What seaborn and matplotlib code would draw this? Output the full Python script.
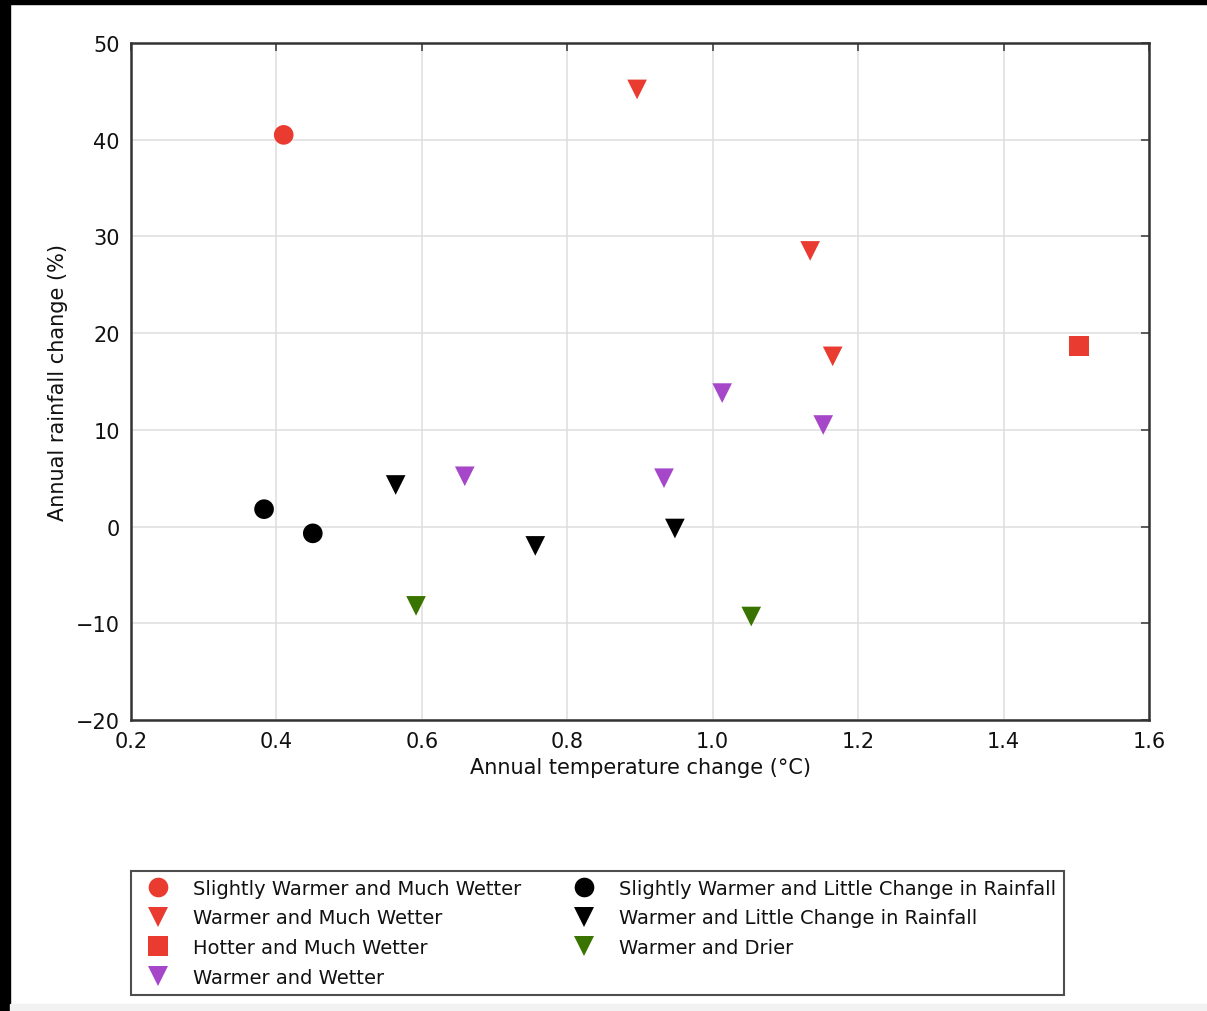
import seaborn as sns
import numpy as np
import pandas as pd
import matplotlib.pyplot as plt
from matplotlib.patches import Rectangle


# data
categories = ["Slightly Warmer and Much Wetter",
              "Warmer and Much Wetter",
              "Hotter and Much Wetter",
              "Warmer and Wetter",
              "Slightly Warmer and Little Change in Rainfall",
              "Warmer and Little Change in Rainfall",
              "Warmer and Drier"]

temp_change = [0.41,
               0.896, 1.134, 1.165,
               1.504,
               1.013, 1.152, 0.659, 0.933,
               0.383, 0.450,
               0.564, 0.756, 0.948,
               0.592, 1.053]
rain_change = [40.5,
               45.2, 28.5, 17.6,
               18.7,
               13.8, 10.5, 5.2, 5.0,
               1.8, -0.7,
               4.3, -2.0, -0.2,
               -8.2, -9.3]
group = ([categories[0]] + [categories[1]] * 3 + [categories[2]]
         + [categories[3]] * 4 + [categories[4]] * 2
         + [categories[5]] * 3 + [categories[6]] * 2)

colors = ["#E93B30", "#E93B30", "#E93B30", "#A646C9", "black", "black", "#3A7400"]
markers = ["o", "v", "s", "v", "o", "v", "v"]

df = pd.DataFrame({"temp": temp_change, "rain": rain_change, "group": group})

sns.set_style("white")
plt.rcParams["font.family"] = ["DejaVu Sans"]
plt.rcParams["text.color"] = "#111111"
plt.rcParams["axes.labelcolor"] = "#111111"
plt.rcParams["xtick.labelcolor"] = "#111111"
plt.rcParams["ytick.labelcolor"] = "#111111"

fig = plt.figure(figsize=(12.07, 10.12), dpi=100)
ax = fig.add_axes([131 / 1207, 1 - 721 / 1012, 1018 / 1207, 677 / 1012])

sns.scatterplot(data=df, x="temp", y="rain", hue="group", style="group",
                hue_order=categories, style_order=categories,
                palette=dict(zip(categories, colors)),
                markers=dict(zip(categories, markers)),
                s=200, edgecolor="none", ax=ax, zorder=3)

ax.set_xlim(0.2, 1.6)
ax.set_ylim(-20, 50)
ax.set_xticks(np.arange(0.2, 1.61, 0.2))
ax.set_yticks(np.arange(-20, 51, 10))
ax.grid(True, color="#dedede", linewidth=1.1, zorder=0)
ax.set_axisbelow(True)
ax.tick_params(direction="in", length=6, width=1.2, color="#444444",
               top=True, right=True, labelsize=15, pad=8)
for sp in ax.spines.values():
    sp.set_color("#333333")
    sp.set_linewidth(1.8)
ax.set_xlabel("Annual temperature change (\u00b0C)", fontsize=15, labelpad=4)
ax.set_ylabel("Annual rainfall change (%)", fontsize=15, labelpad=6)

handles, labels = ax.get_legend_handles_labels()
ax.get_legend().remove()
leg = fig.legend(handles, labels, ncol=2, loc="upper left",
                 bbox_to_anchor=(131 / 1207, 1 - 872 / 1012),
                 fontsize=14, frameon=True, fancybox=False,
                 edgecolor="#222222", borderpad=0.4, labelspacing=0.55,
                 handletextpad=0.8, columnspacing=2.2, markerscale=1.0,
                 borderaxespad=0)
leg.get_frame().set_linewidth(1.5)

# screenshot border bits
fig.add_artist(Rectangle((0, 1 - 5 / 1012), 1, 5 / 1012, transform=fig.transFigure,
                         color="black", zorder=10))
fig.add_artist(Rectangle((0, 0), 10 / 1207, 1, transform=fig.transFigure,
                         color="black", zorder=10))
fig.add_artist(Rectangle((10 / 1207, 0), 1, 7 / 1012, transform=fig.transFigure,
                         color="#f2f2f2", zorder=10))

fig.savefig("out.png", dpi=100)
